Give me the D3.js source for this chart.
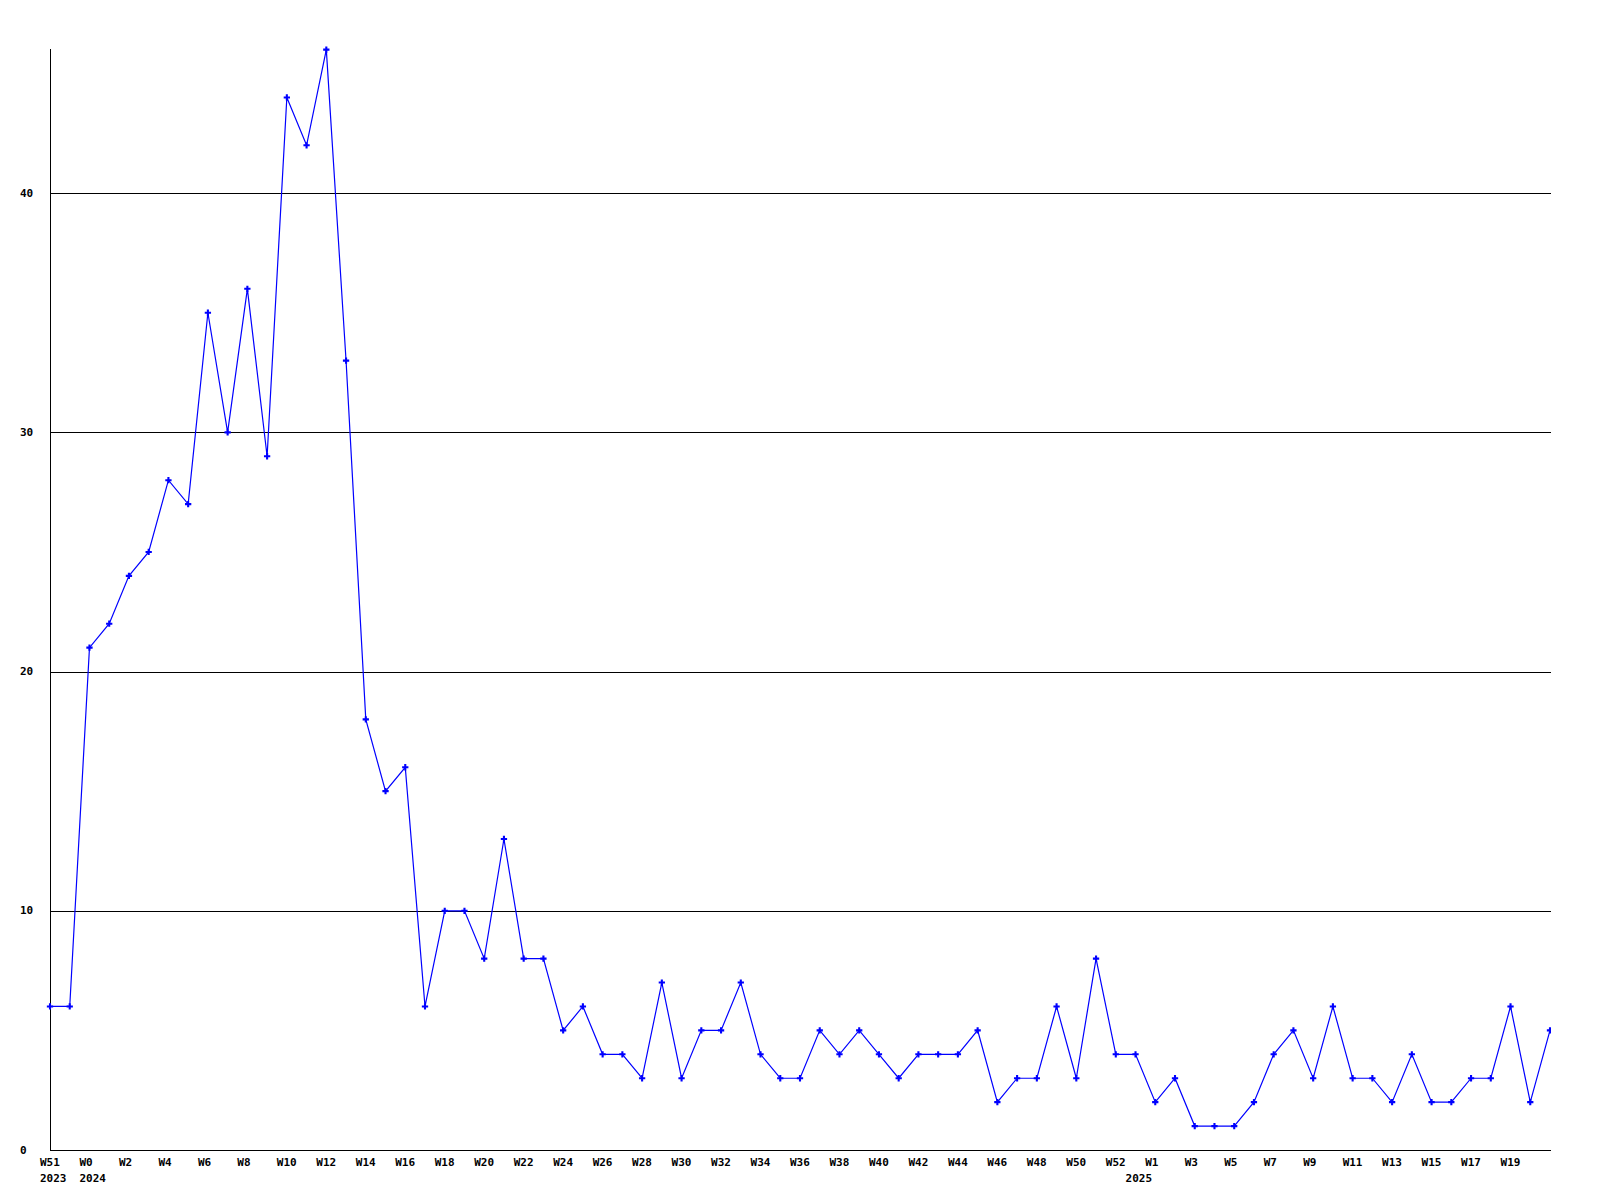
<!DOCTYPE html>
<html>
<head>
<meta charset="utf-8">
<script src="https://cdn.jsdelivr.net/npm/d3@7"></script>
<style>
  html, body { margin: 0; padding: 0; background: #fff; }
  svg { display: block; }
  text { font-family: "DejaVu Sans Mono", monospace; font-weight: bold; font-size: 11px; fill: #000; }
</style>
</head>
<body>
<svg id="chart" width="1600" height="1200"></svg>
<script>
const weekLabels = [
  "W51","W52",
  "W0","W1","W2","W3","W4","W5","W6","W7","W8","W9","W10","W11","W12","W13","W14","W15","W16","W17","W18","W19","W20",
  "W21","W22","W23","W24","W25","W26","W27","W28","W29","W30","W31","W32","W33","W34","W35","W36","W37","W38","W39","W40",
  "W41","W42","W43","W44","W45","W46","W47","W48","W49","W50","W51","W52",
  "W0","W1","W2","W3","W4","W5","W6","W7","W8","W9","W10","W11","W12","W13","W14","W15","W16","W17","W18","W19","W20","W21"
];
const values = [6,6,21,22,24,25,28,27,35,30,36,29,44,42,46,33,18,15,16,6,10,10,8,13,8,8,5,6,4,4,3,7,3,5,5,7,4,3,3,5,4,5,4,3,4,4,4,5,2,3,3,6,3,8,4,4,2,3,1,1,1,2,4,5,3,6,3,3,2,4,2,2,3,3,6,2,5];
const yearLabels = ["2023","2024","2025"];
const yearStartIndex = [0, 2, 55];
const yTicks = [0, 10, 20, 30, 40];
const yMax = 46;

const svg = d3.select("#chart");
const x = d3.scaleLinear().domain([0, values.length - 1]).range([50, 1550]);
const y = d3.scaleLinear().domain([0, yMax]).range([1150, 49.6]);

// clip
svg.append("clipPath").attr("id", "plotclip")
  .append("rect").attr("x", 0).attr("y", 0).attr("width", 1551).attr("height", 1200);

// gridlines
svg.append("g").selectAll("line").data(yTicks.filter(d => d > 0)).join("line")
  .attr("x1", 50).attr("x2", 1551)
  .attr("y1", d => Math.round(y(d)) + 0.5).attr("y2", d => Math.round(y(d)) + 0.5)
  .attr("stroke", "#000").attr("stroke-width", 1).attr("shape-rendering", "crispEdges");

// axes lines
svg.append("line").attr("x1", 50.5).attr("x2", 50.5).attr("y1", 49).attr("y2", 1150.5)
  .attr("stroke", "#000").attr("shape-rendering", "crispEdges");
svg.append("line").attr("x1", 50).attr("x2", 1551).attr("y1", 1150.5).attr("y2", 1150.5)
  .attr("stroke", "#000").attr("shape-rendering", "crispEdges");

// y tick labels
svg.append("g").selectAll("text").data(yTicks).join("text")
  .attr("x", 20).attr("y", d => y(d))
  .attr("dominant-baseline", "central")
  .text(d => d);

// x week labels (every other week)
const weekIdx = d3.range(0, values.length - 1, 2);
svg.append("g").selectAll("text").data(weekIdx).join("text")
  .attr("x", i => x(i) - 10).attr("y", 1162)
  .attr("dominant-baseline", "central")
  .text(i => weekLabels[i]);

// year labels
svg.append("g").selectAll("text").data(yearStartIndex).join("text")
  .attr("x", i => x(i) - 10).attr("y", 1178)
  .attr("dominant-baseline", "central")
  .text((i, k) => yearLabels[k]);

const plot = svg.append("g").attr("clip-path", "url(#plotclip)");

// line
const line = d3.line().x((d, i) => x(i)).y(d => y(d));
plot.append("path").datum(values)
  .attr("d", line).attr("fill", "none").attr("stroke", "#0000ff").attr("stroke-width", 1.2);

// markers
const sym = d3.symbol().type(d3.symbolCross).size(22);
plot.append("g").selectAll("path").data(values).join("path")
  .attr("transform", (d, i) => `translate(${x(i)},${y(d)})`)
  .attr("d", sym).attr("fill", "#0000ff");
</script>
</body>
</html>
